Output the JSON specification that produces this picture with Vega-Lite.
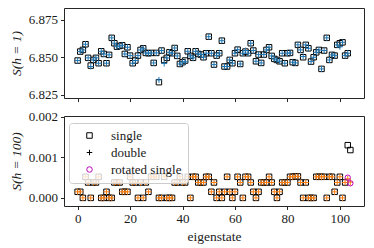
{
  "$schema": "https://vega.github.io/schema/vega-lite/v6.json",
  "padding": {"left": 9, "top": 7, "right": 5, "bottom": 2},
  "background": "white",
  "spacing": 7,
  "config": {
    "font": "Liberation Serif",
    "view": {"stroke": "#262626", "strokeWidth": 1},
    "axis": {"domain": false, "grid": false, "tickSize": 3.5, "tickColor": "#262626", "tickWidth": 1, "labelFont": "Liberation Serif", "labelFontSize": 13, "labelColor": "#1a1a1a", "labelPadding": 3, "titleFont": "Liberation Serif", "titleFontSize": 13.5, "titleFontWeight": "normal", "titleColor": "#1a1a1a"},
    "axisY": {"minExtent": 37, "maxExtent": 37, "titlePadding": 3.5}
  },
  "datasets": {
    "top": [
      {"i":0,"s":6.8478,"d":6.8478},{"i":1,"s":6.8538,"d":6.8538},{"i":2,"s":6.8549,"d":6.8549},{"i":3,"s":6.8587,"d":6.8587},{"i":4,"s":6.8496,"d":6.8496},{"i":5,"s":6.8444,"d":6.8438},{"i":6,"s":6.8482,"d":6.8482},{"i":7,"s":6.8496,"d":6.8496},{"i":8,"s":6.846,"d":6.846},{"i":9,"s":6.854,"d":6.854},
      {"i":10,"s":6.8522,"d":6.8522},{"i":11,"s":6.846,"d":6.846},{"i":12,"s":6.8516,"d":6.8516},{"i":13,"s":6.863,"d":6.863},{"i":14,"s":6.8594,"d":6.8594},{"i":15,"s":6.8571,"d":6.8571},{"i":16,"s":6.8576,"d":6.8576},{"i":17,"s":6.858,"d":6.858},{"i":18,"s":6.8522,"d":6.8522},{"i":19,"s":6.8567,"d":6.8567},
      {"i":20,"s":6.8511,"d":6.8511},{"i":21,"s":6.846,"d":6.846},{"i":22,"s":6.8478,"d":6.8478},{"i":23,"s":6.8511,"d":6.8511},{"i":24,"s":6.8549,"d":6.8549},{"i":25,"s":6.856,"d":6.856},{"i":26,"s":6.8529,"d":6.8529},{"i":27,"s":6.8527,"d":6.8527},{"i":28,"s":6.8529,"d":6.8529},{"i":29,"s":6.8462,"d":6.8462},
      {"i":30,"s":6.8529,"d":6.8529},{"i":31,"s":6.8333,"d":6.8348},{"i":32,"s":6.8545,"d":6.8545},{"i":33,"s":6.8482,"d":6.8458},{"i":34,"s":6.8496,"d":6.8496},{"i":35,"s":6.8533,"d":6.8533},{"i":36,"s":6.8527,"d":6.8527},{"i":37,"s":6.8562,"d":6.8562},{"i":38,"s":6.8509,"d":6.8509},{"i":39,"s":6.8455,"d":6.8455},
      {"i":40,"s":6.8467,"d":6.8467},{"i":41,"s":6.8478,"d":6.847},{"i":42,"s":6.854,"d":6.854},{"i":43,"s":6.8509,"d":6.8509},{"i":44,"s":6.8496,"d":6.8496},{"i":45,"s":6.854,"d":6.854},{"i":46,"s":6.8522,"d":6.8522},{"i":47,"s":6.8518,"d":6.8518},{"i":48,"s":6.85,"d":6.85},{"i":49,"s":6.8527,"d":6.8527},
      {"i":50,"s":6.8638,"d":6.8638},{"i":51,"s":6.8527,"d":6.8527},{"i":52,"s":6.8451,"d":6.8451},{"i":53,"s":6.8511,"d":6.8511},{"i":54,"s":6.8527,"d":6.8527},{"i":55,"s":6.8611,"d":6.8611},{"i":56,"s":6.8438,"d":6.8438},{"i":57,"s":6.8438,"d":6.8438},{"i":58,"s":6.8482,"d":6.8482},{"i":59,"s":6.846,"d":6.846},
      {"i":60,"s":6.8527,"d":6.8527},{"i":61,"s":6.8551,"d":6.8551},{"i":62,"s":6.8455,"d":6.8455},{"i":63,"s":6.8527,"d":6.8527},{"i":64,"s":6.8538,"d":6.8545},{"i":65,"s":6.8527,"d":6.8527},{"i":66,"s":6.8594,"d":6.8594},{"i":67,"s":6.8545,"d":6.8545},{"i":68,"s":6.8473,"d":6.8473},{"i":69,"s":6.8518,"d":6.8518},
      {"i":70,"s":6.8462,"d":6.8462},{"i":71,"s":6.8518,"d":6.8518},{"i":72,"s":6.8549,"d":6.8549},{"i":73,"s":6.8567,"d":6.8567},{"i":74,"s":6.8509,"d":6.8509},{"i":75,"s":6.8489,"d":6.8489},{"i":76,"s":6.8482,"d":6.8482},{"i":77,"s":6.8473,"d":6.8473},{"i":78,"s":6.8527,"d":6.8527},{"i":79,"s":6.846,"d":6.846},
      {"i":80,"s":6.8527,"d":6.8527},{"i":81,"s":6.8529,"d":6.8529},{"i":82,"s":6.8467,"d":6.8467},{"i":83,"s":6.8462,"d":6.8462},{"i":84,"s":6.8583,"d":6.8583},{"i":85,"s":6.8549,"d":6.8549},{"i":86,"s":6.85,"d":6.8505},{"i":87,"s":6.8583,"d":6.8583},{"i":88,"s":6.856,"d":6.856},{"i":89,"s":6.8471,"d":6.8471},
      {"i":90,"s":6.85,"d":6.85},{"i":91,"s":6.8533,"d":6.8533},{"i":92,"s":6.8549,"d":6.8549},{"i":93,"s":6.8422,"d":6.8422},{"i":94,"s":6.8545,"d":6.8545},{"i":95,"s":6.863,"d":6.863},{"i":96,"s":6.8482,"d":6.8482},{"i":97,"s":6.8516,"d":6.8516},{"i":98,"s":6.8511,"d":6.8511},{"i":99,"s":6.8583,"d":6.8583},
      {"i":100,"s":6.8594,"d":6.857},{"i":101,"s":6.86,"d":6.86},{"i":102,"s":6.8511,"d":6.8511},{"i":103,"s":6.8527,"d":6.8527}
    ],
    "bot": [
      {"i":0,"s":0.00015,"d":0.00015},{"i":1,"s":0.00015,"d":0.00015},{"i":2,"s":0,"d":0},{"i":3,"s":0.00052,"d":0.00052},{"i":4,"s":0.00038,"d":0.00038},{"i":5,"s":0,"d":0},{"i":6,"s":0.00038,"d":0.00038},{"i":7,"s":0.00038,"d":0.00038},{"i":8,"s":0.00052,"d":0.00052},{"i":9,"s":0,"d":0},
      {"i":10,"s":0,"d":0},{"i":11,"s":0.00015,"d":0.00015},{"i":12,"s":0,"d":0},{"i":13,"s":0,"d":0},{"i":14,"s":0.00038,"d":0.00038},{"i":15,"s":0.00038,"d":0.00038},{"i":16,"s":0.00038,"d":0.00038},{"i":17,"s":0.00015,"d":0.00015},{"i":18,"s":0.00015,"d":0.00015},{"i":19,"s":0.00015,"d":0.00015},
      {"i":20,"s":0.00052,"d":0.00052},{"i":21,"s":0.00038,"d":0.00038},{"i":22,"s":0.00038,"d":0.00038},{"i":23,"s":0,"d":0},{"i":24,"s":0.00038,"d":0.00038},{"i":25,"s":0,"d":0},{"i":26,"s":0.00038,"d":0.00038},{"i":27,"s":0.00015,"d":0.00015},{"i":28,"s":0.00052,"d":0.00052},{"i":29,"s":0.00052,"d":0.00052},
      {"i":30,"s":0.00052,"d":0.00052},{"i":31,"s":0,"d":0},{"i":32,"s":0,"d":0},{"i":33,"s":0.00052,"d":0.00052},{"i":34,"s":0,"d":0},{"i":35,"s":0,"d":0},{"i":36,"s":0,"d":0},{"i":37,"s":0.00038,"d":0.00038},{"i":38,"s":0.00038,"d":0.00038},{"i":39,"s":0.00052,"d":0.00052},
      {"i":40,"s":0.00038,"d":0.00038},{"i":41,"s":0.00038,"d":0.00038},{"i":42,"s":0.00052,"d":0.00052},{"i":43,"s":0,"d":0},{"i":44,"s":0.00052,"d":0.00052},{"i":45,"s":0.00052,"d":0.00052},{"i":46,"s":0.00038,"d":0.00038},{"i":47,"s":0.00038,"d":0.00038},{"i":48,"s":0.00038,"d":0.00038},{"i":49,"s":0.00052,"d":0.00052},
      {"i":50,"s":0.00052,"d":0.00052},{"i":51,"s":0.00015,"d":0.00015},{"i":52,"s":0.00038,"d":0.00038},{"i":53,"s":0,"d":0},{"i":54,"s":0.00015,"d":0.00015},{"i":55,"s":0,"d":0},{"i":56,"s":0.00015,"d":0.00015},{"i":57,"s":0.00052,"d":0.00052},{"i":58,"s":0.00015,"d":0.00015},{"i":59,"s":0,"d":0},
      {"i":60,"s":0.00015,"d":0.00015},{"i":61,"s":0.00052,"d":0.00052},{"i":62,"s":0.00038,"d":0.00038},{"i":63,"s":0,"d":0},{"i":64,"s":0.00052,"d":0.00052},{"i":65,"s":0.00052,"d":0.00052},{"i":66,"s":0.00038,"d":0.00038},{"i":67,"s":0.00015,"d":0.00015},{"i":68,"s":0,"d":0},{"i":69,"s":0.00015,"d":0.00015},
      {"i":70,"s":0.00038,"d":0.00038},{"i":71,"s":0.00038,"d":0.00038},{"i":72,"s":0.00038,"d":0.00038},{"i":73,"s":0.00052,"d":0.00052},{"i":74,"s":0.00038,"d":0.00038},{"i":75,"s":0.00015,"d":0.00015},{"i":76,"s":0,"d":0},{"i":77,"s":0.00015,"d":0.00015},{"i":78,"s":0.00038,"d":0.00038},{"i":79,"s":0.00038,"d":0.00038},
      {"i":80,"s":0.00038,"d":0.00038},{"i":81,"s":0.00052,"d":0.00052},{"i":82,"s":0.00052,"d":0.00052},{"i":83,"s":0.00053,"d":0.00053},{"i":84,"s":0.00053,"d":0.00053},{"i":85,"s":0.00038,"d":0.00038},{"i":86,"s":0,"d":0},{"i":87,"s":0.00038,"d":0.00038},{"i":88,"s":0,"d":0},{"i":89,"s":0,"d":0},
      {"i":90,"s":0,"d":0},{"i":91,"s":0.00052,"d":0.00052},{"i":92,"s":0.00052,"d":0.00052},{"i":93,"s":0.00052,"d":0.00052},{"i":94,"s":0.00052,"d":0.00052},{"i":95,"s":0,"d":0},{"i":96,"s":0.00052,"d":0.00052},{"i":97,"s":0.00052,"d":0.00052},{"i":98,"s":0.00015,"d":0.00015},{"i":99,"s":0.00038,"d":0.00038},
      {"i":100,"s":0.00052,"d":0.00052},{"i":101,"s":0,"d":0},{"i":102,"s":0.00038,"d":0.00038},{"i":103,"s":0.0013,"d":0.00047,"r":0.0005},{"i":104,"s":0.00118,"d":0.00039,"r":0.00036}
    ]
  },
  "vconcat": [
    {
      "width": 300,
      "height": 90,
      "data": {"name": "top"},
      "encoding": {
        "x": {"field": "i", "type": "quantitative", "scale": {"domain": [-5.2, 109.2], "nice": false, "zero": false}, "axis": {"values": [0, 20, 40, 60, 80, 100], "labels": false, "title": null}}
      },
      "layer": [
        {
          "mark": {"type": "point", "shape": "square", "filled": false, "stroke": "black", "strokeWidth": 1, "size": 30, "opacity": 1},
          "encoding": {
            "y": {"field": "s", "type": "quantitative", "scale": {"domain": [6.8227, 6.883], "nice": false, "zero": false}, "axis": {"values": [6.825, 6.85, 6.875], "format": ".3f", "title": "S(h = 1)", "titleFontStyle": "italic"}}
          }
        },
        {
          "mark": {"type": "point", "shape": "M-1,0L1,0M0,-1L0,1", "filled": false, "stroke": "#1f77b4", "strokeWidth": 1, "size": 36, "opacity": 1},
          "encoding": {
            "y": {"field": "d", "type": "quantitative"}
          }
        }
      ]
    },
    {
      "width": 300,
      "height": 90,
      "data": {"name": "bot"},
      "encoding": {
        "x": {"field": "i", "type": "quantitative", "scale": {"domain": [-5.2, 109.2], "nice": false, "zero": false}, "axis": {"values": [0, 20, 40, 60, 80, 100], "title": "eigenstate", "titlePadding": 4}}
      },
      "layer": [
        {
          "mark": {"type": "point", "filled": false, "strokeWidth": 1, "size": 30, "opacity": 1},
          "encoding": {
            "y": {"field": "s", "type": "quantitative", "scale": {"domain": [-0.0002, 0.00202], "nice": false, "zero": false}, "axis": {"values": [0, 0.001, 0.002], "format": ".3f", "title": "S(h = 100)", "titleFontStyle": "italic"}},
            "shape": {"datum": "single", "type": "nominal", "scale": {"domain": ["single", "double", "rotated single"], "range": ["square", "M-1,0L1,0M0,-1L0,1", "circle"]}, "legend": {"title": null, "orient": "none", "legendX": 5, "legendY": 115, "fillColor": "rgba(255,255,255,0.8)", "strokeColor": "#cccccc", "cornerRadius": 3, "padding": 6, "symbolOffset": 8, "symbolSize": 30, "symbolStrokeWidth": 1, "symbolFillColor": "transparent", "labelOffset": 15, "labelFontSize": 13, "labelFont": "Liberation Serif", "labelColor": "#1a1a1a", "rowPadding": 3}},
            "stroke": {"datum": "single", "type": "nominal", "scale": {"domain": ["single", "double", "rotated single"], "range": ["black", "black", "#bf00bf"]}, "legend": {"title": null, "orient": "none", "legendX": 5, "legendY": 115, "fillColor": "rgba(255,255,255,0.8)", "strokeColor": "#cccccc", "cornerRadius": 3, "padding": 6, "symbolOffset": 8, "symbolSize": 30, "symbolStrokeWidth": 1, "symbolFillColor": "transparent", "labelOffset": 15, "labelFontSize": 13, "labelFont": "Liberation Serif", "labelColor": "#1a1a1a", "rowPadding": 3}}
          }
        },
        {
          "mark": {"type": "point", "shape": "M-1,0L1,0M0,-1L0,1", "filled": false, "stroke": "#ff7f0e", "strokeWidth": 1, "size": 36, "opacity": 1},
          "encoding": {
            "y": {"field": "d", "type": "quantitative"}
          }
        },
        {
          "transform": [{"filter": "isValid(datum.r)"}],
          "mark": {"type": "point", "filled": false, "strokeWidth": 1, "size": 28, "opacity": 1},
          "encoding": {
            "y": {"field": "r", "type": "quantitative"},
            "shape": {"datum": "rotated single", "type": "nominal"},
            "stroke": {"datum": "rotated single", "type": "nominal"}
          }
        }
      ]
    }
  ]
}
